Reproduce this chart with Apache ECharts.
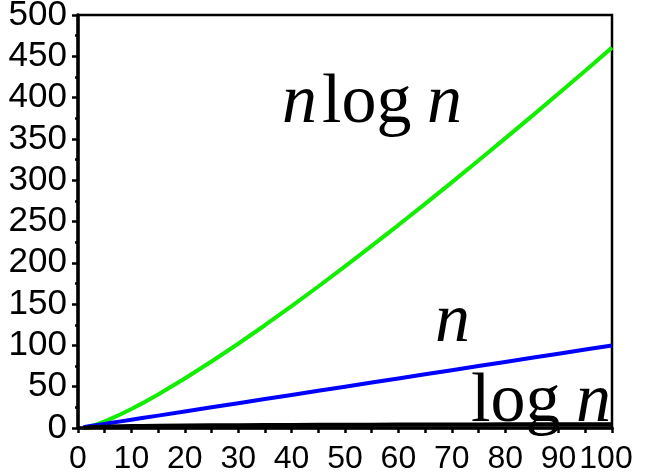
<!DOCTYPE html>
<html>
<head>
<meta charset="utf-8">
<script src="https://cdn.jsdelivr.net/npm/echarts@6/dist/echarts.min.js"></script>
<style>
  html, body { margin: 0; padding: 0; background: #fff; }
  #chart { width: 645px; height: 475px; }
</style>
</head>
<body>
<div id="chart"></div>
<script>
// Sample points along n
var nPoints = [1, 2, 3, 4, 5, 6, 8, 10, 12, 15, 20, 25, 30, 35, 40, 45, 50, 55, 60, 65, 70, 75, 80, 85, 90, 95, 100];

// n log n
var nLogN = [0, 1.4, 3.3, 5.5, 8.0, 10.8, 16.6, 23.0, 29.8, 40.6, 59.9, 80.5, 102.0, 124.4, 147.6, 171.3, 195.6, 220.4, 245.7, 271.3, 297.4, 323.8, 350.6, 377.6, 405.0, 432.6, 460.5];

// n
var linear = [1, 2, 3, 4, 5, 6, 8, 10, 12, 15, 20, 25, 30, 35, 40, 45, 50, 55, 60, 65, 70, 75, 80, 85, 90, 95, 100];

// log n
var logN = [0, 0.7, 1.1, 1.4, 1.6, 1.8, 2.1, 2.3, 2.5, 2.7, 3.0, 3.2, 3.4, 3.6, 3.7, 3.8, 3.9, 4.0, 4.1, 4.2, 4.2, 4.3, 4.4, 4.4, 4.5, 4.6, 4.6];

// Axis ranges and label steps
var xMin = 0, xMax = 100, xStep = 10;
var yMin = 0, yMax = 500, yStep = 50;

function pairs(ys) {
  return nPoints.map(function (x, i) { return [x, ys[i]]; });
}

var chart = echarts.init(document.getElementById('chart'), null, { renderer: 'canvas' });

var sans = '"Liberation Sans", Arial, sans-serif';
var serif = '"Liberation Serif", "Times New Roman", serif';
var mathSize = 70;

function word(text, x, y, italic) {
  return {
    type: 'text',
    x: x, y: y,
    z: 100,
    style: {
      text: text,
      font: (italic ? 'italic ' : '') + mathSize + 'px ' + serif,
      fill: '#000',
      verticalAlign: 'middle',
      align: 'left'
    }
  };
}

chart.setOption({
  animation: false,
  backgroundColor: '#fff',
  grid: {
    left: 78, right: 33, top: 15, bottom: 47,
    containLabel: false,
    outerBoundsMode: 'none',
    show: true,
    borderColor: '#000',
    borderWidth: 2.5,
    backgroundColor: 'transparent'
  },
  xAxis: {
    type: 'value',
    min: xMin, max: xMax, interval: xStep,
    axisLine: { show: true, onZero: false, lineStyle: { color: '#000', width: 3.5 } },
    axisTick: { show: true, inside: false, length: 5, lineStyle: { color: '#000', width: 2.5 } },
    minorTick: { show: true, splitNumber: 2, length: 5, lineStyle: { color: '#000', width: 2.5 } },
    axisLabel: {
      margin: 15,
      fontFamily: sans, fontSize: 32, color: '#000',
      // the last label sits tucked in toward the frame corner
      formatter: function (v) { return v === xMax ? '{end|' + v + '}' : String(v); },
      rich: { end: { fontFamily: sans, fontSize: 32, color: '#000', padding: [0, 12, 0, 0] } }
    },
    splitLine: { show: false }
  },
  yAxis: {
    type: 'value',
    min: yMin, max: yMax, interval: yStep,
    axisLine: { show: true, onZero: false, lineStyle: { color: '#000', width: 3.5 } },
    axisTick: { show: true, inside: false, length: 6, lineStyle: { color: '#000', width: 2.5 } },
    minorTick: { show: true, splitNumber: 2, length: 3, lineStyle: { color: '#000', width: 2.5 } },
    axisLabel: { margin: 11, fontFamily: sans, fontSize: 35, color: '#000' },
    splitLine: { show: false }
  },
  series: [
    {
      name: 'n log n', type: 'line', data: pairs(nLogN),
      showSymbol: false, clip: false,
      lineStyle: { color: '#11ee00', width: 4 }
    },
    {
      name: 'n', type: 'line', data: pairs(linear),
      showSymbol: false, clip: false,
      lineStyle: { color: '#0000ff', width: 4 }
    },
    {
      name: 'log n', type: 'line', data: pairs(logN),
      showSymbol: false, clip: false,
      lineStyle: { color: '#000', width: 4 }
    }
  ],
  graphic: [
    word('n', 282, 104, true),
    word('log', 322, 104, false),
    word('n', 427, 104, true),
    word('n', 435, 323, true),
    word('log', 471, 403, false),
    word('n', 576, 403, true)
  ]
});
</script>
</body>
</html>
